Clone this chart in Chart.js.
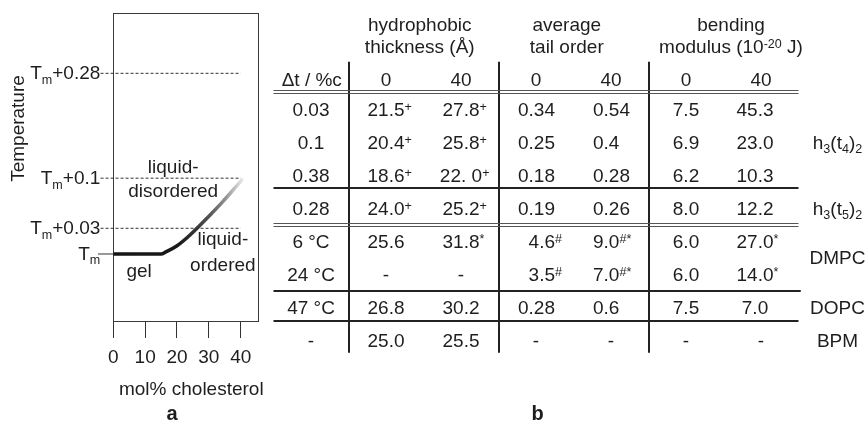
<!DOCTYPE html>
<html>
<head>
<meta charset="utf-8">
<script src="https://cdn.jsdelivr.net/npm/chart.js@4/dist/chart.umd.min.js"></script>
<style>
  html, body { margin: 0; padding: 0; background: #fff; }
  #wrap { position: relative; width: 867px; height: 422px; overflow: hidden; }
  #phase { position: absolute; left: 0; top: 0; }
  #table { position: absolute; left: 260px; top: 0; }
</style>
</head>
<body>
<div id="wrap">
  <canvas id="phase" width="265" height="422"></canvas>
  <canvas id="table" width="607" height="422"></canvas>
</div>
<script>
// ---- panel a: schematic phase diagram ----
const molTicks = [0, 10, 20, 30, 40];
const boundaryMol = [0, 15, 16.5, 19.9, 24.1, 30.4, 34.4, 38.2, 40.7];
const boundaryLevel = [0, 0, 0.08, 0.31, 0.74, 1.52, 2.04, 2.57, 2.92];
// temperature axis is schematic, so each label sits on its own level
const tempLevels = [0, 1, 2.95, 7.03];
const tempLabels = ['T_{m}', 'T_{m}+0.03', 'T_{m}+0.1', 'T_{m}+0.28'];
const phaseNames = [['liquid-', 'disordered'], ['liquid-', 'ordered'], ['gel']];

// ---- panel b: table ----
const groupTitles = [['hydrophobic', 'thickness (Å)'], ['average', 'tail order'], ['bending', 'modulus (10^{-20} J)']];
const cholHeaders = ['0', '40', '0', '40', '0', '40'];
const rowHead = 'Δt / %c';
const deltaT = ['0.03', '0.1', '0.38', '0.28', '6 °C', '24 °C', '47 °C', '-'];
const thick0 = ['21.5^{+}', '20.4^{+}', '18.6^{+}', '24.0^{+}', '25.6', '-', '26.8', '25.0'];
const thick40 = ['27.8^{+}', '25.8^{+}', '22. 0^{+}', '25.2^{+}', '31.8^{*}', '-', '30.2', '25.5'];
const order0 = ['0.34', '0.25', '0.18', '0.19', '4.6^{#}', '3.5^{#}', '0.28', '-'];
const order40 = ['0.54', '0.4', '0.28', '0.26', '9.0^{#*}', '7.0^{#*}', '0.6', '-'];
const bend0 = ['7.5', '6.9', '6.2', '8.0', '6.0', '6.0', '7.5', '-'];
const bend40 = ['45.3', '23.0', '10.3', '12.2', '27.0^{*}', '14.0^{*}', '7.0', '-'];
const systems = ['h_{3}(t_{4})_{2}', 'h_{3}(t_{5})_{2}', 'DMPC', 'DOPC', 'BPM'];
const systemRows = [1, 3, 4.5, 6, 7];

const FONT = '"Liberation Sans", Arial, Helvetica, sans-serif';
const INK = '#1e1e1e';
const SIZE = 19;

// text with _{sub} and ^{sup} pieces
function parseRich(str) {
    var parts = [];
    var re = /([_^])\{([^}]*)\}|([^_^]+)/g, m;
    while ((m = re.exec(str))) {
        if (m[3]) parts.push({t: m[3], k: 0});
        else parts.push({t: m[2], k: m[1] === '_' ? 1 : -1});
    }
    return parts;
}

function drawRich(ctx, str, x, y, opt) {
    opt = opt || {};
    var size = opt.size || SIZE;
    var weight = opt.bold ? 'bold ' : '';
    var small = size * 0.66;
    var parts = parseRich(str);
    var w = 0, wBase = 0;
    parts.forEach(p => {
        ctx.font = weight + (p.k ? small : size) + 'px ' + FONT;
        p.w = ctx.measureText(p.t).width;
        w += p.w;
    });
    // width without trailing superscripts (footnote marks)
    wBase = w;
    for (var i = parts.length - 1; i >= 0 && parts[i].k === -1; i--) wBase -= parts[i].w;
    var ref = opt.baseOnly ? wBase : w;
    var cx = opt.align === 'right' ? x - ref : opt.align === 'left' ? x : x - ref / 2;
    var base = y + size * 0.35;
    ctx.textAlign = 'left';
    ctx.textBaseline = 'alphabetic';
    ctx.fillStyle = opt.color || INK;
    parts.forEach(p => {
        ctx.font = weight + (p.k ? small : size) + 'px ' + FONT;
        var dy = p.k === 1 ? size * 0.25 : p.k === -1 ? -size * 0.25 : 0;
        ctx.fillText(p.t, cx, base + dy);
        cx += p.w;
    });
}

//Panel a decorations: frame, temperature labels, phase names, titles
const phaseDecor = {
    id: 'phaseDecor',
    beforeDatasetsDraw(chart) {
        const {ctx, chartArea: a} = chart;
        ctx.save();
        ctx.strokeStyle = '#3a3a3a';
        ctx.lineWidth = 1;
        ctx.strokeRect(Math.round(a.left) + 0.5, Math.round(a.top) + 0.5,
            Math.round(a.right - a.left) - 1, Math.round(a.bottom - a.top));
        ctx.restore();
    },
    afterDatasetsDraw(chart) {
        const {ctx, scales: {x, y}} = chart;
        ctx.save();
        tempLabels.forEach((lab, i) => {
            drawRich(ctx, lab, x.getPixelForValue(0) - 13, y.getPixelForValue(tempLevels[i]) - 1, {align: 'right'});
        });
        const spots = [
            {mol: 18.8, lv: [3.41, 2.49]},
            {mol: 34.4, lv: [0.61, -0.39]},
            {mol: 8.1, lv: [-0.64]}
        ];
        phaseNames.forEach((lines, i) => {
            lines.forEach((t, j) => {
                drawRich(ctx, t, x.getPixelForValue(spots[i].mol), y.getPixelForValue(spots[i].lv[j]), {});
            });
        });
        // axis titles
        ctx.save();
        ctx.translate(17.5, 128.5);
        ctx.rotate(-Math.PI / 2);
        drawRich(ctx, 'Temperature', 0, 0, {});
        ctx.restore();
        drawRich(ctx, 'mol% cholesterol', (x.left + x.right) / 2 + 5, 388, {});
        drawRich(ctx, 'a', 172, 413, {bold: true, size: 20});
        ctx.restore();
    }
};

function boundaryColor(c) {
    const chart = c.chart;
    if (!chart.chartArea) return '#111';
    const sx = chart.scales.x;
    const g = chart.ctx.createLinearGradient(sx.getPixelForValue(0), 0, sx.getPixelForValue(41), 0);
    g.addColorStop(0, '#141414');
    g.addColorStop(0.5, '#1a1a1a');
    g.addColorStop(0.62, '#333');
    g.addColorStop(0.74, '#555');
    g.addColorStop(0.84, '#888');
    g.addColorStop(0.93, '#c0c0c0');
    g.addColorStop(1, '#ededed');
    return g;
}

const refLines = tempLevels.map((lv, i) => ({
    data: i === 0 ? [{x: -4.8, y: lv}, {x: 0, y: lv}] : [{x: -4, y: lv}, {x: 40, y: lv}],
    borderColor: '#333',
    borderWidth: 1,
    borderDash: i === 0 ? [] : [3, 2],
    pointRadius: 0,
    clip: false
}));

new Chart(document.getElementById('phase'), {
    type: 'scatter',
    data: {
        datasets: refLines.concat([{
            data: boundaryMol.map((m, i) => ({x: m, y: boundaryLevel[i]})),
            borderColor: boundaryColor,
            borderWidth: 3.5,
            cubicInterpolationMode: 'monotone',
            pointRadius: 0,
            clip: false
        }]).map(d => Object.assign({showLine: true}, d))
    },
    options: {
        responsive: false,
        animation: false,
        events: [],
        layout: {autoPadding: false, padding: {left: 113.3, right: 5.7, top: 13, bottom: 0}},
        plugins: {legend: {display: false}, tooltip: {enabled: false}},
        scales: {
            x: {
                type: 'linear', min: 0, max: 45.84,
                afterBuildTicks: s => { s.ticks = molTicks.map(v => ({value: v})); },
                afterFit: s => { s.height = 101; },
                grid: {drawOnChartArea: false, drawTicks: true, tickLength: 17, color: '#333', lineWidth: 1},
                border: {display: false},
                ticks: {color: INK, font: {size: SIZE, family: FONT}, padding: 8, maxRotation: 0, autoSkip: false}
            },
            y: {type: 'linear', display: false, min: -2.607, max: 9.377}
        }
    },
    plugins: [phaseDecor]
});

// ---- table ----
const cols = [deltaT, thick0, thick40, order0, order40, bend0, bend40];
const colAlign = ['center', 'center', 'center', 'right', 'left', 'center', 'center'];
const colNudge = [0, 0, 0, 19, -18, 0, -6];

const tableDecor = {
    id: 'tableDecor',
    afterDatasetsDraw(chart) {
        const {ctx, scales: {x, y}} = chart;
        ctx.save();
        ctx.strokeStyle = '#222';
        // vertical rules between column groups
        ctx.lineWidth = 2;
        [0.5, 2.5, 4.5].forEach(c => {
            const px = Math.round(x.getPixelForValue(c));
            ctx.beginPath();
            ctx.moveTo(px, y.getPixelForValue(-1.43));
            ctx.lineTo(px, y.getPixelForValue(7.39));
            ctx.stroke();
        });
        // horizontal rules
        const rules = [{at: -0.5, dbl: true}, {at: 2.4}, {at: 3.5, dbl: true}, {at: 5.5, wide: true}, {at: 6.43}];
        rules.forEach(r => {
            const py = Math.round(y.getPixelForValue(r.at));
            const x0 = x.getPixelForValue(-0.5), x1 = x.getPixelForValue(r.wide ? 6.53 : 6.5);
            if (r.dbl) {
                ctx.lineWidth = 1.2;
                ctx.strokeStyle = '#555';
                [-1.5, 1.5].forEach(o => {
                    ctx.beginPath(); ctx.moveTo(x0, py + o); ctx.lineTo(x1, py + o); ctx.stroke();
                });
                ctx.strokeStyle = '#222';
            } else {
                ctx.lineWidth = 2;
                ctx.beginPath(); ctx.moveTo(x0, py); ctx.lineTo(x1, py); ctx.stroke();
            }
        });
        // group titles
        const gx = [1.45, 3.41, 5.6];
        groupTitles.forEach((g, i) => {
            drawRich(ctx, g[0], x.getPixelForValue(gx[i]), y.getPixelForValue(-2.576));
            drawRich(ctx, g[1], x.getPixelForValue(gx[i]), y.getPixelForValue(-1.894));
        });
        drawRich(ctx, rowHead, x.getPixelForValue(0.01), y.getPixelForValue(-0.909));
        cholHeaders.forEach((h, i) => {
            drawRich(ctx, h, x.getPixelForValue(i + 1), y.getPixelForValue(-0.909));
        });
        // cells, placed on each dataset element
        chart.data.datasets.forEach((ds, di) => {
            const meta = chart.getDatasetMeta(di);
            meta.data.forEach((el, ri) => {
                if (di < cols.length) {
                    const t = cols[di][ri];
                    if (t === '-') drawRich(ctx, t, el.x, el.y);
                    else drawRich(ctx, t, el.x + colNudge[di], el.y, {align: colAlign[di], baseOnly: true});
                } else {
                    drawRich(ctx, systems[ri], el.x, el.y);
                }
            });
        });
        drawRich(ctx, 'b', x.getPixelForValue(3.02), 413, {bold: true, size: 20});
        ctx.restore();
    }
};

new Chart(document.getElementById('table'), {
    type: 'scatter',
    data: {
        datasets: cols.map((c, ci) => ({
            data: c.map((_, ri) => ({x: ci, y: ri})),
            pointRadius: 0
        })).concat([{
            data: systemRows.map(r => ({x: 7.02, y: r})),
            pointRadius: 0
        }])
    },
    options: {
        responsive: false,
        animation: false,
        events: [],
        layout: {autoPadding: false, padding: 0},
        plugins: {legend: {display: false}, tooltip: {enabled: false}},
        scales: {
            x: {type: 'linear', display: false, min: -0.68, max: 7.4133},
            y: {type: 'linear', display: false, reverse: true, min: -3.303, max: 9.4848}
        }
    },
    plugins: [tableDecor]
});
</script>
</body>
</html>
